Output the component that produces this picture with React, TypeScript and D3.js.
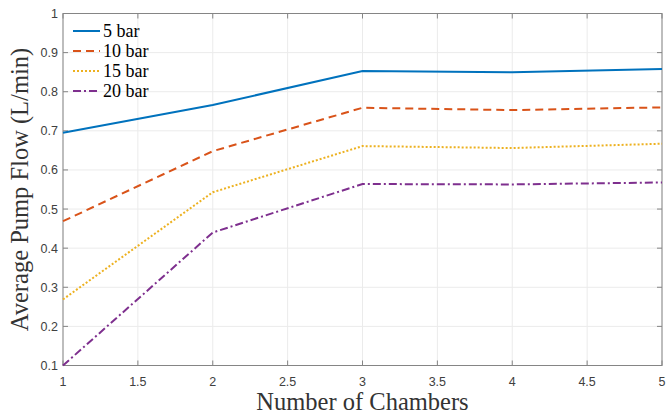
import React from "react";
import * as d3 from "d3";

const chambers = [1, 2, 3, 4, 5];
const bar5 = [0.695, 0.766, 0.853, 0.850, 0.858];
const bar10 = [0.469, 0.648, 0.759, 0.753, 0.760];
const bar15 = [0.269, 0.543, 0.661, 0.656, 0.667];
const bar20 = [0.1, 0.44, 0.564, 0.563, 0.568];
const seriesNames = ["5 bar", "10 bar", "15 bar", "20 bar"];
const xTicks = [1, 1.5, 2, 2.5, 3, 3.5, 4, 4.5, 5];
const yTicks = [0.1, 0.2, 0.3, 0.4, 0.5, 0.6, 0.7, 0.8, 0.9, 1];

const colors = ["#0072BD", "#D95319", "#EDB120", "#7E2F8E"];
const dashes = ["", "8,5", "2,2", "8,3,2,3"];

export default function App() {
  const W = 667, H = 415;
  const L = 63, R = 662, T = 13.5, B = 365.5;
  const x = d3.scaleLinear().domain([1, 5]).range([L, R]);
  const y = d3.scaleLinear().domain([0.1, 1]).range([B, T]);
  const line = d3.line<number>().x((_, i) => x(chambers[i])).y((d) => y(d));
  const series = [bar5, bar10, bar15, bar20];
  const axisColor = "#858585";
  const tickFont = "Liberation Sans, Arial, sans-serif";
  const serif = "Liberation Serif, Times New Roman, serif";
  return (
    <svg width={W} height={H} style={{ position: "absolute", left: 0, top: 0, background: "#fff" }}>
      {xTicks.map((t) => (
        <line key={"gx" + t} x1={x(t)} x2={x(t)} y1={T} y2={B} stroke="#ebebeb" strokeWidth={1} />
      ))}
      {yTicks.map((t) => (
        <line key={"gy" + t} x1={L} x2={R} y1={y(t)} y2={y(t)} stroke="#ebebeb" strokeWidth={1} />
      ))}
      <rect x={L} y={T} width={R - L} height={B - T} fill="none" stroke={axisColor} strokeWidth={1} />
      {xTicks.map((t) => (
        <g key={"tx" + t}>
          <line x1={x(t)} x2={x(t)} y1={B} y2={B - 5} stroke={axisColor} />
          <line x1={x(t)} x2={x(t)} y1={T} y2={T + 5} stroke={axisColor} />
          <text x={x(t)} y={386} textAnchor="middle" fontSize={12.5} fill="#404040" fontFamily={tickFont}>
            {String(t)}
          </text>
        </g>
      ))}
      {yTicks.map((t) => (
        <g key={"ty" + t}>
          <line x1={L} x2={L + 5} y1={y(t)} y2={y(t)} stroke={axisColor} />
          <line x1={R} x2={R - 5} y1={y(t)} y2={y(t)} stroke={axisColor} />
          <text x={L - 5} y={y(t) + 4.5} textAnchor="end" fontSize={12.5} fill="#404040" fontFamily={tickFont}>
            {String(t)}
          </text>
        </g>
      ))}
      {series.map((s, i) => (
        <path key={"s" + i} d={line(s) || ""} fill="none" stroke={colors[i]} strokeWidth={2}
          strokeDasharray={dashes[i] || undefined} />
      ))}
      {seriesNames.map((n, i) => (
        <g key={"lg" + i}>
          <line x1={73} x2={100} y1={31 + i * 20} y2={31 + i * 20} stroke={colors[i]} strokeWidth={2}
            strokeDasharray={dashes[i] || undefined} />
          <text x={103} y={31 + i * 20 + 5.5} fontSize={18} fill="#000" fontFamily={serif}>{n}</text>
        </g>
      ))}
      <text x={(L + R) / 2} y={410} textAnchor="middle" fontSize={24.5} fill="#333" fontFamily={serif}>
        Number of Chambers
      </text>
      <text transform={`translate(28,${(T + B) / 2}) rotate(-90)`} textAnchor="middle" fontSize={24.5}
        fill="#333" fontFamily={serif}>
        Average Pump Flow (L/min)
      </text>
    </svg>
  );
}
